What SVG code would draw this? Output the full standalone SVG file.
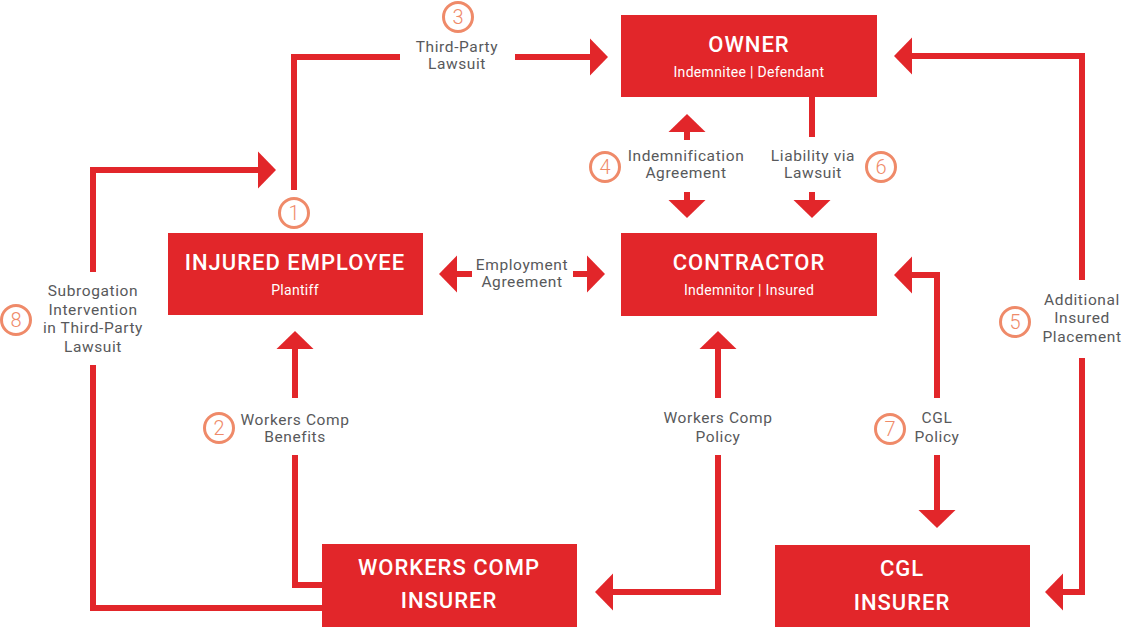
<svg xmlns="http://www.w3.org/2000/svg" width="1125" height="627" viewBox="0 0 1125 627">
<style>
.box{fill:#E2262A}
.t{font-family:Roboto,"Liberation Sans",sans-serif;fill:#fff;text-anchor:middle;font-weight:500;font-size:22px;letter-spacing:1px}
.s{font-family:Roboto,"Liberation Sans",sans-serif;fill:#fff;text-anchor:middle;font-size:14px;letter-spacing:0.3px}
.lbl{font-family:Roboto,"Liberation Sans",sans-serif;fill:#58595B;text-anchor:middle;font-size:15.5px;letter-spacing:0.6px}
.c{fill:#fff;stroke:#EF8A69;stroke-width:3}
.n{font-family:Roboto,"Liberation Sans",sans-serif;fill:#EF8A69;text-anchor:middle;font-size:20px;font-weight:300}
.ln{fill:none;stroke:#E2262A;stroke-width:6}
</style>
<defs>
<marker id="ah" markerUnits="userSpaceOnUse" markerWidth="20" markerHeight="40" refX="0" refY="18.5" orient="auto" overflow="visible">
<path d="M0,0 L18,18.5 L0,37 Z" fill="#E2262A"/>
</marker>
</defs>
<g id="connectors">
<path class="ln" d="M294,190 L294,57 L400,57"/>
<path class="ln" d="M515,57 L590,57" marker-end="url(#ah)"/>
<path class="ln" d="M322,608 L93,608 L93,365"/>
<path class="ln" d="M93,272 L93,170 L258,170" marker-end="url(#ah)"/>
<path class="ln" d="M322,585 L295,585 L295,455"/>
<path class="ln" d="M295,398 L295,349" marker-end="url(#ah)"/>
<path class="ln" d="M472,274 L457,274" marker-end="url(#ah)"/>
<path class="ln" d="M573,274 L587,274" marker-end="url(#ah)"/>
<path class="ln" d="M687,140 L687,132" marker-end="url(#ah)"/>
<path class="ln" d="M687,192 L687,200" marker-end="url(#ah)"/>
<path class="ln" d="M812,97 L812,137"/>
<path class="ln" d="M812,192 L812,200" marker-end="url(#ah)"/>
<path class="ln" d="M1082,280 L1082,56 L912,56" marker-end="url(#ah)"/>
<path class="ln" d="M1082,358 L1082,592 L1063,592" marker-end="url(#ah)"/>
<path class="ln" d="M937,398 L937,275 L912,275" marker-end="url(#ah)"/>
<path class="ln" d="M937,455 L937,510" marker-end="url(#ah)"/>
<path class="ln" d="M718,398 L718,349" marker-end="url(#ah)"/>
<path class="ln" d="M718,455 L718,592 L613,592" marker-end="url(#ah)"/>
</g>
<g id="owner">
<rect class="box" x="621" y="15" width="256" height="82"/>
<text class="t" x="749" y="52">OWNER</text>
<text class="s" x="749" y="77">Indemnitee | Defendant</text>
</g>
<g id="injured-employee">
<rect class="box" x="168" y="233" width="255" height="82"/>
<text class="t" x="295" y="270">INJURED EMPLOYEE</text>
<text class="s" x="295" y="295">Plantiff</text>
</g>
<g id="contractor">
<rect class="box" x="621" y="233" width="256" height="83"/>
<text class="t" x="749" y="270">CONTRACTOR</text>
<text class="s" x="749" y="295">Indemnitor | Insured</text>
</g>
<g id="workers-comp-insurer">
<rect class="box" x="322" y="544" width="255" height="83"/>
<text class="t" x="449" y="575">WORKERS COMP</text>
<text class="t" x="449" y="608">INSURER</text>
</g>
<g id="cgl-insurer">
<rect class="box" x="775" y="545" width="255" height="82"/>
<text class="t" x="902" y="576">CGL</text>
<text class="t" x="902" y="610">INSURER</text>
</g>
<g id="labels">
<text class="lbl" x="457" y="52">Third-Party</text>
<text class="lbl" x="457" y="69">Lawsuit</text>
<text class="lbl" x="93" y="296">Subrogation</text>
<text class="lbl" x="93" y="315">Intervention</text>
<text class="lbl" x="93" y="333">in Third-Party</text>
<text class="lbl" x="93" y="352">Lawsuit</text>
<text class="lbl" x="295" y="425">Workers Comp</text>
<text class="lbl" x="295" y="442">Benefits</text>
<text class="lbl" x="522" y="270">Employment</text>
<text class="lbl" x="522" y="287">Agreement</text>
<text class="lbl" x="686" y="161">Indemnification</text>
<text class="lbl" x="686" y="178">Agreement</text>
<text class="lbl" x="813" y="161">Liability via</text>
<text class="lbl" x="813" y="178">Lawsuit</text>
<text class="lbl" x="1082" y="305">Additional</text>
<text class="lbl" x="1082" y="323">Insured</text>
<text class="lbl" x="1082" y="342">Placement</text>
<text class="lbl" x="718" y="423">Workers Comp</text>
<text class="lbl" x="718" y="442">Policy</text>
<text class="lbl" x="937" y="423">CGL</text>
<text class="lbl" x="937" y="442">Policy</text>
</g>
<g id="badges">
<circle class="c" cx="294" cy="213" r="14.5"/><text class="n" x="294" y="220">1</text>
<circle class="c" cx="219" cy="428" r="14.5"/><text class="n" x="219" y="435">2</text>
<circle class="c" cx="458" cy="17" r="14.5"/><text class="n" x="458" y="24">3</text>
<circle class="c" cx="605" cy="167" r="14.5"/><text class="n" x="605" y="174">4</text>
<circle class="c" cx="1015" cy="322" r="14.5"/><text class="n" x="1015" y="329">5</text>
<circle class="c" cx="881" cy="167" r="14.5"/><text class="n" x="881" y="174">6</text>
<circle class="c" cx="890" cy="429" r="14.5"/><text class="n" x="890" y="436">7</text>
<circle class="c" cx="16" cy="320" r="14.5"/><text class="n" x="16" y="327">8</text>
</g>
</svg>
